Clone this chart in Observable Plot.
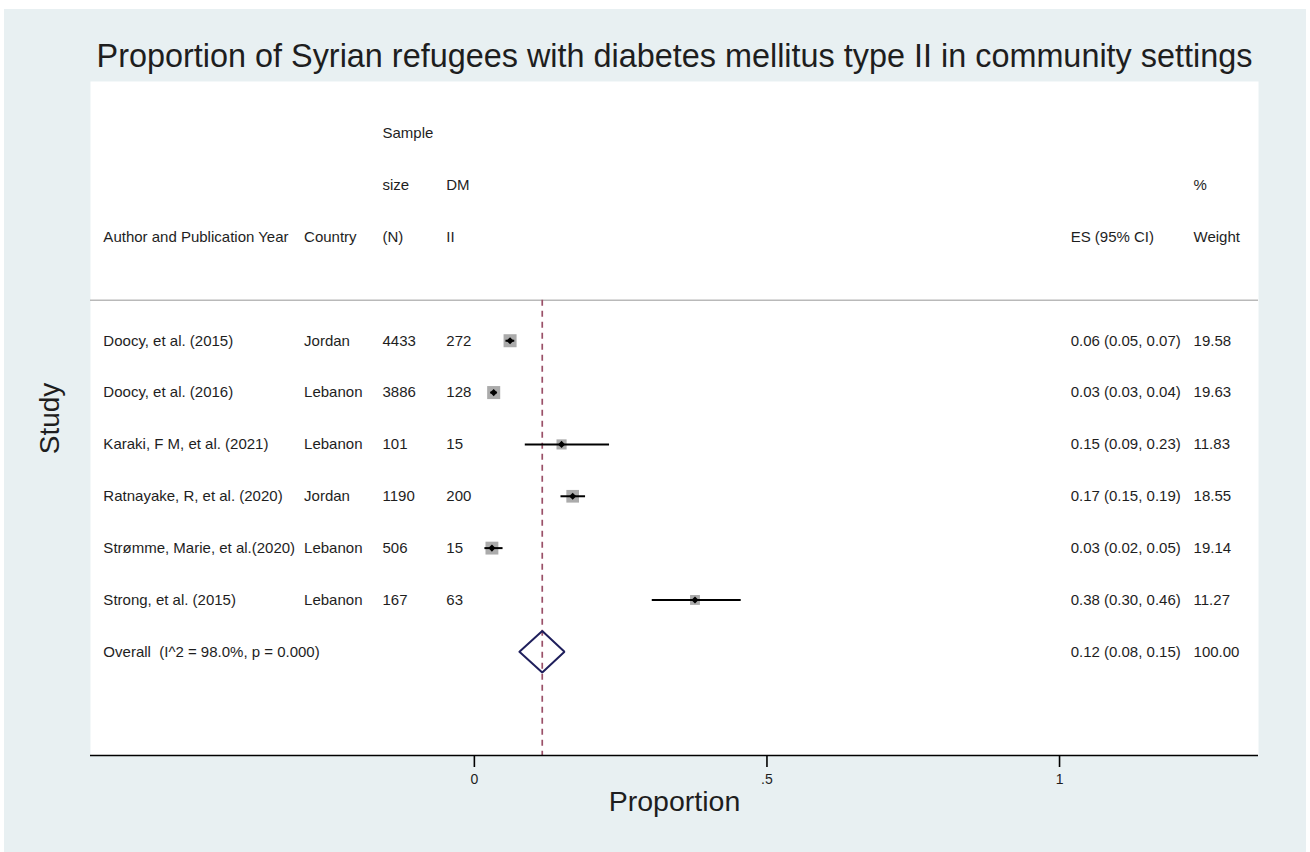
<!DOCTYPE html>
<html>
<head>
<meta charset="utf-8">
<script src="https://cdn.jsdelivr.net/npm/d3@7"></script>
<script src="https://cdn.jsdelivr.net/npm/@observablehq/plot@0.6"></script>
<style>
  html, body { margin: 0; padding: 0; background: #ffffff; width: 1310px; height: 852px; overflow: hidden; }
  #bg { position: absolute; left: 4px; top: 9px; width: 1302px; height: 843px; background: #e8f0f2; }
  #chart { position: absolute; left: 0; top: 0; }
</style>
</head>
<body>
<div id="bg"></div>
<div id="chart"></div>
<script>
// ---- Data ----
const chartTitle = "Proportion of Syrian refugees with diabetes mellitus type II in community settings";
const authors = ["Doocy, et al. (2015)", "Doocy, et al. (2016)", "Karaki, F M, et al. (2021)", "Ratnayake, R, et al. (2020)", "Strømme, Marie, et al.(2020)", "Strong, et al. (2015)"];
const countries = ["Jordan", "Lebanon", "Lebanon", "Jordan", "Lebanon", "Lebanon"];
const sampleN = [4433, 3886, 101, 1190, 506, 167];
const casesDM = [272, 128, 15, 200, 15, 63];
const es = [0.061, 0.033, 0.149, 0.168, 0.030, 0.377];
const ciLow = [0.054, 0.028, 0.087, 0.148, 0.018, 0.304];
const ciHigh = [0.069, 0.039, 0.231, 0.190, 0.049, 0.456];
const weights = [19.58, 19.63, 11.83, 18.55, 19.14, 11.27];
const overallLabel = "Overall\u00a0\u00a0(I^2 = 98.0%, p = 0.000)";
const overallES = 0.116, overallLow = 0.077, overallHigh = 0.154, overallWeight = 100;
const xTicks = [0, 0.5, 1];
const xTickLabels = ["0", ".5", "1"];
// header lines per column (3 lines each)
const headerAuthor = ["", "", "Author and Publication Year"];
const headerCountry = ["", "", "Country"];
const headerN = ["Sample", "size", "(N)"];
const headerDM = ["", "DM", "II"];
const headerES = ["", "", "ES (95% CI)"];
const headerWeight = ["", "%", "Weight"];
const yLabel = "Study";
const xLabel = "Proportion";

// ---- Layout (rows of the Stata table; column anchors in x-data units) ----
const firstHeaderRow = 1;
const firstStudyRow = 5;
const overallRow = firstStudyRow + authors.length;
const totalRows = overallRow + 2;
const sepRow = 4.22;
const colX = { author: -0.634, country: -0.291, n: -0.157, dm: -0.048, es: 1.019, weight: 1.229 };

const rows = authors.map((a, i) => ({
  author: a, country: countries[i], n: sampleN[i], dm: casesDM[i],
  es: es[i], lo: ciLow[i], hi: ciHigh[i], w: weights[i], row: firstStudyRow + i
}));
const fmt2 = v => v.toFixed(2);
rows.forEach(d => { d.esText = `${fmt2(d.es)} (${fmt2(d.lo)}, ${fmt2(d.hi)})`; d.wText = fmt2(d.w); });

const headerCells = [];
[[headerAuthor, "author"], [headerCountry, "country"], [headerN, "n"], [headerDM, "dm"], [headerES, "es"], [headerWeight, "weight"]]
  .forEach(([lines, col]) => lines.forEach((t, j) => { if (t) headerCells.push({ text: t, col, row: firstHeaderRow + j }); }));

const overallCells = [
  { text: overallLabel, col: "author" },
  { text: `${fmt2(overallES)} (${fmt2(overallLow)}, ${fmt2(overallHigh)})`, col: "es" },
  { text: fmt2(overallWeight), col: "weight" }
];
const dh = 0.4; // half-height of the pooled diamond, in rows
const diamondPts = [
  { x: overallLow, y: overallRow }, { x: overallES, y: overallRow - dh },
  { x: overallHigh, y: overallRow }, { x: overallES, y: overallRow + dh },
  { x: overallLow, y: overallRow }
];

const textColor = "#1e1e1e";
const col = c => () => colX[c];

const plot = Plot.plot({
  width: 1310, height: 852,
  marginLeft: 90, marginRight: 52, marginTop: 81, marginBottom: 97,
  style: { background: "transparent", fontFamily: "'Liberation Sans', Arial, sans-serif", fontSize: "15px", color: textColor },
  x: { domain: [-0.656, 1.340] },
  y: { domain: [0, totalRows], reverse: true, axis: null },
  r: { type: "sqrt", domain: [0, 19.6], range: [0, 7.35] },
  marks: [
    Plot.frame({ fill: "white", stroke: "none" }),
    Plot.ruleY([sepRow], { stroke: "#b9b9b9", strokeWidth: 1.5 }),
    Plot.ruleX([overallES], { y1: sepRow, y2: totalRows, stroke: "#9a5068", strokeWidth: 1.7, strokeDasharray: "6,5" }),
    Plot.dot(rows, { x: "es", y: "row", r: "w", symbol: "square", fill: "#ababab" }),
    Plot.ruleY(rows, { y: "row", x1: "lo", x2: "hi", stroke: "black", strokeWidth: 2 }),
    Plot.dot(rows, { x: "es", y: "row", symbol: "diamond2", r: 3.2, fill: "black" }),
    Plot.line(diamondPts, { x: "x", y: "y", stroke: "#1f1f5c", strokeWidth: 2, strokeLinejoin: "miter" }),
    // header
    Plot.text(headerCells, { x: d => colX[d.col], y: "row", text: "text", textAnchor: "start", fontSize: 15, fill: textColor }),
    // study rows
    Plot.text(rows, { x: col("author"), y: "row", text: "author", textAnchor: "start", fontSize: 15, fill: textColor }),
    Plot.text(rows, { x: col("country"), y: "row", text: "country", textAnchor: "start", fontSize: 15, fill: textColor }),
    Plot.text(rows, { x: col("n"), y: "row", text: d => String(d.n), textAnchor: "start", fontSize: 15, fill: textColor }),
    Plot.text(rows, { x: col("dm"), y: "row", text: d => String(d.dm), textAnchor: "start", fontSize: 15, fill: textColor }),
    Plot.text(rows, { x: col("es"), y: "row", text: "esText", textAnchor: "start", fontSize: 15, fill: textColor }),
    Plot.text(rows, { x: col("weight"), y: "row", text: "wText", textAnchor: "start", fontSize: 15, fill: textColor }),
    Plot.text(overallCells, { x: d => colX[d.col], y: () => overallRow, text: "text", textAnchor: "start", fontSize: 15, fill: textColor }),
    // axis
    Plot.ruleY([totalRows], { stroke: "black", strokeWidth: 1.5 }),
    Plot.axisX({ ticks: xTicks, tickFormat: d => xTickLabels[xTicks.indexOf(d)], tickSize: 12, tickPadding: 7, label: null, fontSize: 14, strokeWidth: 1.6, stroke: "black", fill: textColor }),
    // titles
    Plot.text([xLabel], { frameAnchor: "bottom", lineAnchor: "middle", dy: 46, fontSize: 28.5, fill: textColor }),
    Plot.text([yLabel], { frameAnchor: "left", textAnchor: "middle", lineAnchor: "middle", dx: -40, rotate: -90, fontSize: 28, fill: textColor }),
    Plot.text([chartTitle], { frameAnchor: "top", lineAnchor: "middle", dy: -25, fontSize: 32.4, fill: textColor })
  ]
});
document.getElementById("chart").appendChild(plot);
</script>
</body>
</html>
